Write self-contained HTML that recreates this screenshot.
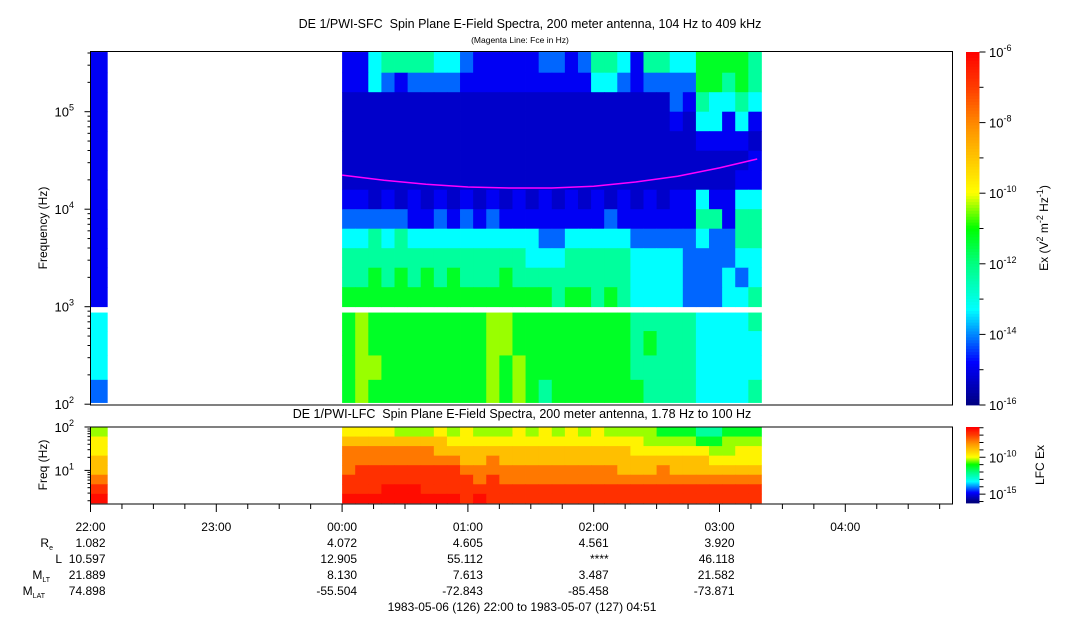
<!DOCTYPE html>
<html><head><meta charset="utf-8"><style>
html,body{margin:0;padding:0;background:#fff;}
svg{display:block;font-family:"Liberation Sans",sans-serif;}
</style></head><body>
<svg id="chart" width="1083" height="620" xmlns="http://www.w3.org/2000/svg">
<text x="530" y="28" font-size="12.5" text-anchor="middle">DE 1/PWI-SFC&#160; Spin Plane E-Field Spectra, 200 meter antenna, 104 Hz to 409 kHz</text>
<text x="520" y="43" font-size="8.5" text-anchor="middle">(Magenta Line: Fce in Hz)</text>
<text x="522" y="418" font-size="12.5" text-anchor="middle">DE 1/PWI-LFC&#160; Spin Plane E-Field Spectra, 200 meter antenna, 1.78 Hz to 100 Hz</text>
<text transform="translate(47,228) rotate(-90)" font-size="12" text-anchor="middle">Frequency (Hz)</text>
<text transform="translate(47,465) rotate(-90)" font-size="12" text-anchor="middle">Freq (Hz)</text>
<text transform="translate(1048,228) rotate(-90)" font-size="12" text-anchor="middle">Ex (V<tspan dy="-5" font-size="9">2</tspan><tspan dy="5"> m</tspan><tspan dy="-5" font-size="9">-2</tspan><tspan dy="5"> Hz</tspan><tspan dy="-5" font-size="9">-1</tspan><tspan dy="5">)</tspan></text>
<text transform="translate(1044,465) rotate(-90)" font-size="12" text-anchor="middle">LFC Ex</text>
<g id="cells"></g>
<g id="axes"></g>
</svg>
<script>
const timeTicks = ["22:00","23:00","00:00","01:00","02:00","03:00","04:00"];
const ephLabels = ["R","L","M","M"];
const ephSubs = ["e","","LT","LAT"];
const ephCols = [0,2,3,4,5];
const ephRe = ["1.082","4.072","4.605","4.561","3.920"];
const ephL = ["10.597","12.905","55.112","****","46.118"];
const ephMLT = ["21.889","8.130","7.613","3.487","21.582"];
const ephMLAT = ["74.898","-55.504","-72.843","-85.458","-73.871"];
const fceMinutes = [0,20,40,60,80,100,120,140,160,180,198];
const fceHz = [22400,19800,18000,16900,16500,16500,17200,19000,21800,26500,32700];
const topEdges = [5.612,5.4,5.2,5.0,4.8,4.6,4.4,4.2,4.0,3.8,3.6,3.4,3.2,3.0];
const lowEdges = [2.94,2.75,2.5,2.25,2.017];
const topRows = [
"22455554432222233235542554466665",
"22432333322222222224432333366565",
"11111111111111111111111113254454",
"11111111111111111111111112144242",
"11111111111111111111111111122221",
"11111111111111111111111111111112",
"11111111111111111111111111111122",
"22121212121212121212121212242244",
"33333223232322222222322222255255",
"44545444444444433444443333343355",
"55555555555555444555554444333344",
"55656565655565555555554444333434",
"66666666666666665665654444333445",
"67666666666776666666665555544445",
"67666666666776666666665655544444",
"67766666666767666666665555544444",
"67666666666767656666666555544445"];
const leftRows = ["2","2","2","2","2","2","2","2","2","2","2","2","2","4","4","4","3"];
const lfcEdges = [2.0,1.78,1.56,1.34,1.12,0.9,0.68,0.46,0.25];
const lfcRows = [
"88887778787778787878777766655666",
"99999999888888888888888777766777",
"aaaaaaa9999999999999998888887788",
"aaaaaaaaa99a99999999999999998888",
"abbbbbbbbaaaaaaaaaaaa999a9999999",
"bbbbbbbbbbabaaaaaaaaaaaaaaaaaaaa",
"bbbcccbbbbbbbbbbbbbbbbbbbbbbbbbb",
"cccccccccbcbbbbbbbbbbbbbbbbbbbbb"];
const lfcLeft = ["7","8","8","9","9","a","b","c"];
const levelKeys = "0123456789abc";
const levelVals = [-16,-15.3,-14.9,-14.2,-13.3,-12.3,-11.3,-10.4,-9.8,-8.9,-7.8,-6.8,-6.2];

const NS="http://www.w3.org/2000/svg";
const X0=90.5, PXH=125.8;
const xT=m=>X0+m/60*PXH;
const yTop=l=>111.7-(l-5)*97.5;
const yLow=l=>427+(2-l)*43.4;
function jet(v){
  const f=Math.max(0,Math.min(1,(v+16)/10));
  const st=[[0,0,0,128],[0.12,0,0,255],[0.27,0,255,255],[0.4,0,255,128],[0.5,0,255,0],[0.6,255,255,0],[0.78,255,150,0],[0.9,255,60,0],[1,255,0,0]];
  for(let i=1;i<st.length;i++){ if(f<=st[i][0]){const a=st[i-1],b=st[i],t=(f-a[0])/(b[0]-a[0]);
    return `rgb(${Math.round(a[1]+t*(b[1]-a[1]))},${Math.round(a[2]+t*(b[2]-a[2]))},${Math.round(a[3]+t*(b[3]-a[3]))})`;}}
  return "rgb(255,0,0)";
}
const lv=c=>levelVals[levelKeys.indexOf(c)];
const cells=document.getElementById('cells');
const axes=document.getElementById('axes');
function el(tag,attrs,parent){const e=document.createElementNS(NS,tag);for(const k in attrs)e.setAttribute(k,attrs[k]);(parent||cells).appendChild(e);return e;}
function cell(x,y,w,h,v,name){const r=el('rect',{x:x,y:y,width:w+0.4,height:h+0.4,fill:jet(v)});
  
  }
const edgesT=[];for(let i=0;i<topEdges.length-1;i++)edgesT.push([topEdges[i],topEdges[i+1]]);
for(let i=0;i<lowEdges.length-1;i++)edgesT.push([lowEdges[i],lowEdges[i+1]]);
const colStart=120, colW=(200/32);
topRows.forEach((row,r)=>{
  const y1=yTop(edgesT[r][0]),y2=yTop(edgesT[r][1]);
  for(let c=0;c<row.length;c++){const xa=xT(colStart+c*colW),xb=xT(colStart+(c+1)*colW);
    cell(xa,y1,xb-xa,y2-y1,lv(row[c]),'sfc-cell');}
  cell(xT(0),y1,xT(8)-xT(0),y2-y1,lv(leftRows[r][0]),'sfc-cell');
});
lfcRows.forEach((row,r)=>{
  const y1=yLow(lfcEdges[r]),y2=yLow(lfcEdges[r+1]);
  for(let c=0;c<row.length;c++){const xa=xT(colStart+c*colW),xb=xT(colStart+(c+1)*colW);
    cell(xa,y1,xb-xa,y2-y1,lv(row[c]),'lfc-cell');}
  cell(xT(0),y1,xT(8)-xT(0),y2-y1,lv(lfcLeft[r]),'lfc-cell');
});
const pts=fceMinutes.map((m,i)=>`${xT(colStart+m).toFixed(1)},${yTop(Math.log10(fceHz[i])).toFixed(1)}`).join(' ');
const fl=el('polyline',{points:pts,fill:'none',stroke:'#ff00ff','stroke-width':1.5},axes);


const f1=el('rect',{x:90.5,y:51.5,width:862,height:353.5,fill:'none',stroke:'#000'},axes);


const f2=el('rect',{x:90.5,y:427,width:862,height:77,fill:'none',stroke:'#000'},axes);


for(let d=2;d<=5;d++){
  for(let k=1;k<=9;k++){const l=d+Math.log10(k);if(l>5.612)break;const y=yTop(l);
    el('line',{x1:90.5-(k===1?6:3),x2:90.5,y1:y,y2:y,stroke:'#000'},axes);}
  const t=el('text',{x:74,y:yTop(d)+5,'font-size':13,'text-anchor':'end'},axes);
  
  
  t.innerHTML=`10<tspan dy="-6" font-size="9">${d}</tspan>`;
}
for(let d=0;d<=2;d++){
  for(let k=1;k<=9;k++){const l=d+Math.log10(k);if(l<0.25||l>2)continue;const y=yLow(l);
    el('line',{x1:90.5-(k===1?6:3),x2:90.5,y1:y,y2:y,stroke:'#000'},axes);}
  if(d>=1){const t=el('text',{x:74,y:yLow(d)+5,'font-size':13,'text-anchor':'end'},axes);
  
  
  t.innerHTML=`10<tspan dy="-6" font-size="9">${d}</tspan>`;}
}
for(let m=0;m<=411;m+=15){const x=xT(m);const maj=m%60===0;
  el('line',{x1:x,x2:x,y1:504,y2:504+(maj?8:5),stroke:'#000'},axes);}
timeTicks.forEach((s,i)=>{const t=el('text',{x:xT(i*60)+15,y:531,'font-size':12,'text-anchor':'end'},axes);
  
  
  t.textContent=s;});
const ephRows=[ephRe,ephL,ephMLT,ephMLAT];
ephRows.forEach((arr,r)=>{const y=547+r*16;
  const lb=el('text',{x:ephSubs[r]?56:62,y:y,'font-size':12,'text-anchor':'end'},axes);
  
  
  lb.innerHTML=ephLabels[r]+(ephSubs[r]?`<tspan dy="3" font-size="7">${ephSubs[r]}</tspan>`:'');
  if(ephSubs[r]) lb.setAttribute('x', r===0?53:(r===2?50:45));
  arr.forEach((v,i)=>{const t=el('text',{x:xT(ephCols[i]*60)+15,y:y,'font-size':12,'text-anchor':'end'},axes);
    
    
    t.textContent=v;});
});
const dt=el('text',{x:522,y:611,'font-size':12,'text-anchor':'middle'},axes);


dt.textContent="1983-05-06 (126) 22:00 to 1983-05-07 (127) 04:51";
function colorbar(y0,y1,vmin,vmax,name,labels){
  const n=120;for(let i=0;i<n;i++){const v=vmax-(i+0.5)/n*(vmax-vmin);
    el('rect',{x:966,y:y0+i*(y1-y0)/n,width:13.5,height:(y1-y0)/n+0.4,fill:jet(v)},axes);}
  const b=el('rect',{x:966,y:y0,width:13.5,height:y1-y0,fill:'none',stroke:'none'},axes);
  
  
  for(let d=Math.ceil(vmin);d<=Math.floor(vmax);d++){const y=y0+(vmax-d)/(vmax-vmin)*(y1-y0);
    const maj=labels.includes(d);
    el('line',{x1:979.5,x2:979.5+(maj?6:4),y1:y,y2:y,stroke:'#000'},axes);
    if(maj){const t=el('text',{x:989,y:y+5,'font-size':13},axes);
      
      
      t.innerHTML=`10<tspan dy="-6" font-size="9">${d}</tspan>`;}}
}
colorbar(52,405,-16,-6,'sfc-colorbar',[-16,-14,-12,-10,-8,-6]);
colorbar(427,503,-16.2,-5.9,'lfc-colorbar',[-10,-15]);
</script>
</body></html>
